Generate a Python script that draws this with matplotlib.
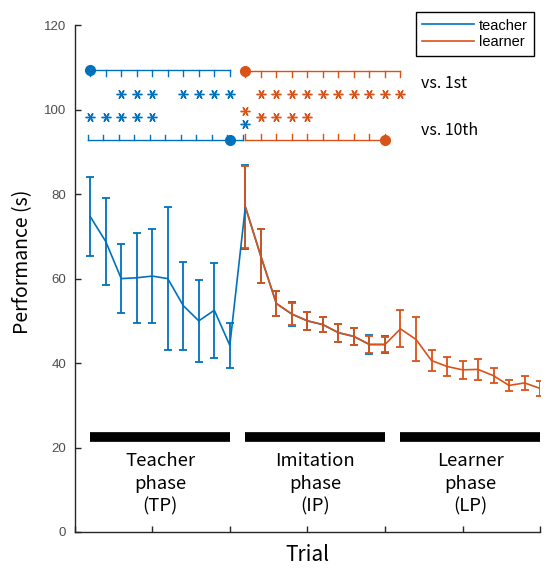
import numpy as np
import matplotlib
matplotlib.use("Agg")
import matplotlib.pyplot as plt
from matplotlib.lines import Line2D

# === Data ===
trial_teacher = np.arange(1, 21)
teacher_mean = [74.7, 68.8, 60.0, 60.2, 60.6, 60.0, 53.6, 50.0, 52.5, 44.2,
                77.0, 65.3, 54.1, 51.6, 50.0, 49.1, 47.2, 46.3, 44.4, 44.4]
teacher_err = [9.4, 10.4, 8.2, 10.7, 11.1, 17.0, 10.4, 9.7, 11.2, 5.4,
               10.0, 6.4, 2.9, 2.9, 2.1, 1.7, 2.1, 2.0, 2.2, 2.1]

trial_learner = np.arange(11, 31)
learner_mean = [77.0, 65.3, 54.1, 51.6, 50.0, 49.1, 47.2, 46.3, 44.4, 44.4,
                48.1, 45.6, 40.6, 39.2, 38.4, 38.5, 37.0, 34.7, 35.3, 34.0]
learner_err = [9.7, 6.4, 2.9, 2.6, 2.1, 1.7, 2.1, 2.0, 1.9, 1.8,
               4.4, 5.2, 2.5, 2.2, 2.2, 2.4, 1.8, 1.2, 1.6, 1.7]

# significant trials (asterisks)
teacher_vs1st = [3, 4, 5, 7, 8, 9, 10]
teacher_vs10th = [1, 2, 3, 4, 5, 11]
learner_vs1st = [12, 13, 14, 15, 16, 17, 18, 19, 20, 21]
learner_vs10th = [11, 12, 13, 14, 15]

phase_names = ["Teacher\nphase\n(TP)", "Imitation\nphase\n(IP)", "Learner\nphase\n(LP)"]
phase_start = [1, 11, 21]
phase_end = [10, 20, 30]

blue = "#0072BD"
orange = "#D95319"
jp_font = ["Noto Sans CJK JP", "DejaVu Sans"]

fig = plt.figure(figsize=(5.5, 5.7), dpi=100)
ax = fig.add_axes([0.1358, 0.0667, 0.8462, 0.889])

# === error bar curves ===
ax.errorbar(trial_teacher, teacher_mean, yerr=teacher_err, color=blue, lw=1.2,
            elinewidth=1.3, capsize=3, capthick=1.3)
ax.errorbar(trial_learner, learner_mean, yerr=learner_err, color=orange, lw=1.2,
            elinewidth=1.3, capsize=3, capthick=1.3)

# === significance brackets ===
def bracket(x0, x1, y, tick_dir, dot_x, color, shift=0.0):
    xs = np.arange(x0, x1 + 1) + shift
    ax.plot([xs[0], xs[-1]], [y, y], color=color, lw=1.0, clip_on=False)
    for x in xs:
        ax.plot([x, x], [y, y + tick_dir * 1.3], color=color, lw=1.0, clip_on=False)
    ax.plot(dot_x, y, "o", color=color, ms=7, clip_on=False)

bracket(1, 10, 109.3, -1, 1, blue)
bracket(1, 11, 92.8, 1, 10, blue, shift=-0.15)
bracket(11, 21, 109.1, -1, 11, orange)
bracket(11, 20, 92.9, 1, 20, orange)

star = (6, 2, 90)
ax.plot(teacher_vs1st, [103.8] * len(teacher_vs1st), ls="none", marker=star,
        color=blue, ms=7, mew=1.0)
ax.plot(learner_vs1st, [103.8] * len(learner_vs1st), ls="none", marker=star,
        color=orange, ms=7, mew=1.0)
ax.plot(teacher_vs10th, [96.7 if t == 11 else 98.3 for t in teacher_vs10th],
        ls="none", marker=star, color=blue, ms=7, mew=1.0)
ax.plot(learner_vs10th, [99.6 if t == 11 else 98.3 for t in learner_vs10th],
        ls="none", marker=star, color=orange, ms=7, mew=1.0)

ax.text(22.3, 106.2, "vs. 1st", fontsize=11.5, family=jp_font, va="center")
ax.text(22.3, 95.1, "vs. 10th", fontsize=11.5, family=jp_font, va="center")

# === phase bars and labels ===
for s, e, name in zip(phase_start, phase_end, phase_names):
    ax.plot([s, e], [22.4, 22.4], color="black", lw=7, solid_capstyle="butt")
    ax.text((s + e) / 2, 11.4, name, ha="center", va="center", fontsize=13.3,
            family=jp_font, linespacing=1.35)

# === axes styling ===
ax.set_xlim(0, 30)
ax.set_ylim(0, 120)
ax.set_xticks(np.arange(0, 31, 5))
ax.set_xticklabels([])
ax.set_yticks(np.arange(0, 121, 20))
for side in ["top", "right"]:
    ax.spines[side].set_visible(False)
for side in ["left", "bottom"]:
    ax.spines[side].set_color("#262626")
    ax.spines[side].set_linewidth(1.0)
ax.tick_params(direction="in", length=4.5, width=1.0, color="#262626",
               labelsize=9.5, labelcolor="#4d4d4d", pad=6)
for lab in ax.get_yticklabels():
    lab.set_family("Liberation Sans")

ax.text(-0.111, 0.533, "Performance (s)", transform=ax.transAxes, rotation=90,
        ha="center", va="center", fontsize=14, family=jp_font)
ax.text(0.5, -0.045, "Trial", transform=ax.transAxes, ha="center", va="center",
        fontsize=15, family=jp_font)

# legend with plain line handles
handles = [Line2D([], [], color=blue, lw=1.2), Line2D([], [], color=orange, lw=1.2)]
leg = ax.legend(handles, ["teacher", "learner"], loc="upper right",
                bbox_to_anchor=(0.971, 0.979), bbox_transform=fig.transFigure,
                prop={"family": "Liberation Sans", "size": 10.5},
                handlelength=3.5, handletextpad=0.35, borderpad=0.45, labelspacing=0.2,
                borderaxespad=0, fancybox=False, framealpha=1)
leg.get_frame().set_edgecolor("black")
leg.get_frame().set_linewidth(1.0)

fig.savefig("out.png", dpi=100)
